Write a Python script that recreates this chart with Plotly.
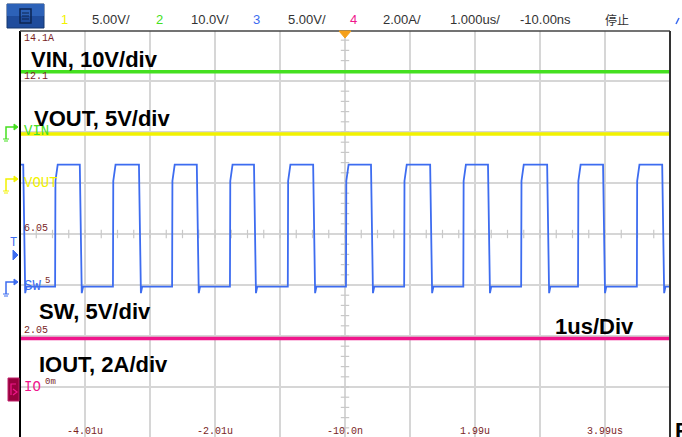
import numpy as np
import plotly.graph_objects as go

# ---------------- data ----------------
# time axis (us); 1 us/div, -10 ns offset
TIME_GRID = [-5.01, -4.01, -3.01, -2.01, -1.01, -0.01, 0.99, 1.99, 2.99, 3.99, 4.99]
TIME_LABELS = ["", "-4.01u", "", "-2.01u", "", "-10.0n", "", "1.99u", "", "3.99us", ""]
T_START, T_END = -5.01, 4.99

# channel settings: ground position (divisions from bottom) and scale per div
VIN_GND_DIV, VIN_SCALE = 6.0, 10.0     # V/div
VOUT_GND_DIV, VOUT_SCALE = 5.0, 5.0    # V/div
SW_GND_DIV, SW_SCALE = 3.0, 5.0        # V/div
IOUT_GND_DIV, IOUT_SCALE = 1.0, 2.0    # A/div

VIN_LEVEL = 11.8    # V
VOUT_LEVEL = 4.8    # V
IOUT_LEVEL = 1.9    # A

SW_HIGH = 11.8      # V
SW_KNEE = 10.2      # V (top of the fast part of the rising edge)
SW_LOW = -0.15      # V
SW_UNDERSHOOT = -0.8
SW_RISE_US = [-4.47, -3.58, -2.67, -1.78, -0.89, 0.005, 0.90, 1.81, 2.70, 3.575, 4.48]
SW_FALL_US = [-4.96, -4.09, -3.18, -2.29, -1.41, -0.50, 0.39, 1.30, 2.19, 3.10, 3.96, 4.87]

# ---------------- figure geometry ----------------
W, H = 682, 437
PL, PR, PT = 20, 670, 31          # plot-area pixel edges
PB = 437
Y_LO, Y_HI = 0.02, 7.98           # visible divisions

def px(x):
    return (x - PL) / (PR - PL)

def py(y):
    return (PB - y) / (PB - PT)

def ch_range(gnd, scale):
    return [(Y_LO - gnd) * scale, (Y_HI - gnd) * scale]

# build SW waveform from edge lists
events = [(t, "r") for t in SW_RISE_US] + [(t, "f") for t in SW_FALL_US]
events.sort()
sw_t, sw_v = [T_START], [SW_HIGH]
for t, kind in events:
    if kind == "f":
        sw_t += [t, t + 0.03, t + 0.05, t + 0.08]
        sw_v += [SW_HIGH, SW_UNDERSHOOT, SW_LOW, SW_LOW]
    else:
        sw_t += [t, t + 0.005, t + 0.04]
        sw_v += [SW_LOW, SW_KNEE, SW_HIGH]
sw_t.append(T_END)
sw_v.append(SW_LOW)

GREEN = "#45e020"
YELLOW = "#f2f200"
BLUE = "#3d6cf0"
MAGENTA = "#f0168c"
LABEL_RED = "#7a1f1f"

fig = go.Figure()

# center graticule minor ticks
minor_x = np.arange(T_START, T_END + 1e-9, 0.25)
fig.add_trace(go.Scatter(x=minor_x, y=[4.0] * len(minor_x), mode="markers",
                         marker=dict(symbol="line-ns", size=6, line=dict(color="#c8c8c8", width=1.2)),
                         hoverinfo="skip", showlegend=False))
minor_y = np.arange(0.2, 8.0, 0.2)
fig.add_trace(go.Scatter(x=[-0.01] * len(minor_y), y=minor_y, mode="markers",
                         marker=dict(symbol="line-ew", size=6, line=dict(color="#c8c8c8", width=1.2)),
                         hoverinfo="skip", showlegend=False))

fig.add_trace(go.Scatter(x=[T_START, T_END], y=[VIN_LEVEL, VIN_LEVEL], yaxis="y2", mode="lines",
                         line=dict(color=GREEN, width=3.5), showlegend=False))
fig.add_trace(go.Scatter(x=[T_START, T_END], y=[VOUT_LEVEL, VOUT_LEVEL], yaxis="y3", mode="lines",
                         line=dict(color=YELLOW, width=3.5), showlegend=False))
fig.add_trace(go.Scatter(x=sw_t, y=sw_v, yaxis="y4", mode="lines",
                         line=dict(color=BLUE, width=1.8), showlegend=False))
fig.add_trace(go.Scatter(x=[T_START, T_END], y=[IOUT_LEVEL, IOUT_LEVEL], yaxis="y5", mode="lines",
                         line=dict(color=MAGENTA, width=3.5), showlegend=False))

hidden = dict(overlaying="y", visible=False, fixedrange=True)
fig.update_layout(
    width=W, height=H, autosize=False,
    margin=dict(l=PL, r=W - PR, t=PT, b=H - PB, pad=0),
    paper_bgcolor="white", plot_bgcolor="white",
    xaxis=dict(range=[T_START, T_END], tickvals=TIME_GRID, showticklabels=False,
               showgrid=True, gridcolor="#d6d6d6", gridwidth=1.5, zeroline=False, showline=False),
    yaxis=dict(range=[Y_LO, Y_HI], tickvals=list(range(0, 9)), showticklabels=False,
               showgrid=True, gridcolor="#d6d6d6", gridwidth=1.5, zeroline=False, showline=False),
    yaxis2=dict(range=ch_range(VIN_GND_DIV, VIN_SCALE), **hidden),
    yaxis3=dict(range=ch_range(VOUT_GND_DIV, VOUT_SCALE), **hidden),
    yaxis4=dict(range=ch_range(SW_GND_DIV, SW_SCALE), **hidden),
    yaxis5=dict(range=ch_range(IOUT_GND_DIV, IOUT_SCALE), **hidden),
    showlegend=False,
)

ann = []
# time labels along bottom
for tv, tl in zip(TIME_GRID, TIME_LABELS):
    if tl:
        ann.append(dict(x=tv, y=py(431), xref="x", yref="paper", text=tl, showarrow=False,
                        xanchor="center", yanchor="middle",
                        font=dict(family="Liberation Mono", size=10, color=LABEL_RED)))

# scale labels on the left
for txt, x, y in [("14.1A", 22, 38), ("12.1", 22, 77), ("6.05", 22, 229), ("2.05", 22, 330)]:
    ann.append(dict(x=px(x), y=py(y), xref="paper", yref="paper", text=txt, showarrow=False,
                    xanchor="left", yanchor="middle",
                    font=dict(family="Liberation Mono", size=10, color=LABEL_RED)))
for txt, x, y in [("5", 43, 281), ("0m", 43, 382)]:
    ann.append(dict(x=px(x), y=py(y), xref="paper", yref="paper", text=txt, showarrow=False,
                    xanchor="left", yanchor="middle",
                    font=dict(family="Liberation Mono", size=9, color=LABEL_RED)))

# channel markers text
for txt, col, y in [("VIN", GREEN, 131), ("VOUT", YELLOW, 183), ("SW", BLUE, 286), ("IO", MAGENTA, 387)]:
    ann.append(dict(x=px(22), y=py(y), xref="paper", yref="paper", text=txt, showarrow=False,
                    xanchor="left", yanchor="middle",
                    font=dict(family="Liberation Mono", size=14, color=col)))

# big black labels
for txt, x, y in [("VIN, 10V/div", 29, 59), ("VOUT, 5V/div", 32, 119), ("SW, 5V/div", 37, 311),
                  ("IOUT, 2A/div", 37, 364), ("1us/Div", 553, 326)]:
    ann.append(dict(x=px(x), y=py(y), xref="paper", yref="paper", text="<b>" + txt + "</b>",
                    showarrow=False, xanchor="left", yanchor="middle",
                    font=dict(family="Liberation Sans", size=22, color="black")))
ann.append(dict(x=px(673), y=py(430), xref="paper", yref="paper", text="<b>F</b>", showarrow=False,
                xanchor="left", yanchor="middle",
                font=dict(family="Liberation Sans", size=22, color="black")))

# trigger marker
ann.append(dict(x=px(13), y=py(243), xref="paper", yref="paper", text="T", showarrow=False,
                xanchor="center", yanchor="middle",
                font=dict(family="Liberation Mono", size=12, color=BLUE)))

# status bar
status = [("1", YELLOW, 64), ("5.00V/", "#333", 111), ("2", GREEN, 159), ("10.0V/", "#333", 210),
          ("3", BLUE, 256), ("5.00V/", "#333", 307), ("4", MAGENTA, 353), ("2.00A/", "#333", 402),
          ("1.000us/", "#333", 475), ("-10.00ns", "#333", 545)]
for txt, col, x in status:
    ann.append(dict(x=px(x), y=py(19), xref="paper", yref="paper", text=txt, showarrow=False,
                    xanchor="center", yanchor="middle",
                    font=dict(family="Liberation Sans", size=13, color=col)))
ann.append(dict(x=px(617), y=py(19), xref="paper", yref="paper", text="停止", showarrow=False,
                xanchor="center", yanchor="middle",
                font=dict(family="Noto Sans CJK SC", size=12, color="#333")))
fig.update_layout(annotations=ann)

shapes = []
# frame
shapes.append(dict(type="line", xref="paper", yref="paper", x0=px(PL), x1=px(PL), y0=0, y1=py(PT),
                   line=dict(color="black", width=2)))
shapes.append(dict(type="line", xref="paper", yref="paper", x0=px(PL), x1=px(PR), y0=py(PT), y1=py(PT),
                   line=dict(color="#444", width=1.5)))
shapes.append(dict(type="line", xref="paper", yref="paper", x0=px(PR), x1=px(PR), y0=0, y1=py(PT),
                   line=dict(color="#333", width=2)))
# status icon
shapes.append(dict(type="rect", xref="paper", yref="paper", x0=px(7), x1=px(44), y0=py(28), y1=py(4),
                   fillcolor="#1f4c9c", line=dict(color="#14366f", width=1)))
shapes.append(dict(type="rect", xref="paper", yref="paper", x0=px(7), x1=px(44), y0=py(16), y1=py(4),
                   fillcolor="#2d62b8", line=dict(width=0)))
shapes.append(dict(type="rect", xref="paper", yref="paper", x0=px(20), x1=px(31), y0=py(23), y1=py(9),
                   fillcolor="rgba(0,0,0,0)", line=dict(color="#0c2450", width=1.5)))
shapes.append(dict(type="path", xref="paper", yref="paper",
                   path=f"M {px(22)},{py(13)} L {px(29)},{py(13)} M {px(22)},{py(16)} L {px(29)},{py(16)} M {px(22)},{py(19)} L {px(29)},{py(19)}",
                   line=dict(color="#0c2450", width=1)))
# trigger position marker (top)
shapes.append(dict(type="path", xref="paper", yref="paper",
                   path=f"M {px(339)},{py(31)} L {px(351)},{py(31)} L {px(345)},{py(38)} Z",
                   fillcolor="#f5a01a", line=dict(color="#f5a01a", width=1)))
# trigger level marker (left)
shapes.append(dict(type="path", xref="paper", yref="paper",
                   path=f"M {px(13)},{py(250)} L {px(13)},{py(260)} L {px(18)},{py(255)} Z",
                   fillcolor=BLUE, line=dict(color=BLUE, width=1)))
# channel ground markers
for col, y in [(GREEN, 131), (YELLOW, 183), (BLUE, 286)]:
    shapes.append(dict(type="path", xref="paper", yref="paper",
                       path=f"M {px(6)},{py(y+8)} L {px(6)},{py(y-4)} L {px(14)},{py(y-4)}",
                       line=dict(color=col, width=1.5)))
    shapes.append(dict(type="path", xref="paper", yref="paper",
                       path=f"M {px(14)},{py(y-7)} L {px(18)},{py(y-4)} L {px(14)},{py(y-1)} Z",
                       fillcolor=col, line=dict(color=col, width=1)))
    shapes.append(dict(type="path", xref="paper", yref="paper",
                       path=f"M {px(3)},{py(y+8)} L {px(9)},{py(y+8)} M {px(4)},{py(y+10)} L {px(8)},{py(y+10)}",
                       line=dict(color=col, width=1)))
# IO marker box
shapes.append(dict(type="rect", xref="paper", yref="paper", x0=px(8), x1=px(19), y0=py(401), y1=py(378),
                   fillcolor="#98003e", line=dict(color="#c0206a", width=1)))
shapes.append(dict(type="path", xref="paper", yref="paper",
                   path=f"M {px(11)},{py(395)} L {px(11)},{py(384)} L {px(16)},{py(384)} M {px(13)},{py(389)} L {px(17)},{py(392)} L {px(13)},{py(395)}",
                   line=dict(color=MAGENTA, width=1.2)))
# partial blue glyph at top-right
shapes.append(dict(type="line", xref="paper", yref="paper", x0=px(676), x1=px(679), y0=py(24), y1=py(18),
                   line=dict(color=BLUE, width=1.5)))
fig.update_layout(shapes=shapes)

fig.write_html("out.html", config={"displayModeBar": False},
               post_script="document.body.style.margin='0';document.body.style.padding='0';document.documentElement.style.overflow='hidden';")
